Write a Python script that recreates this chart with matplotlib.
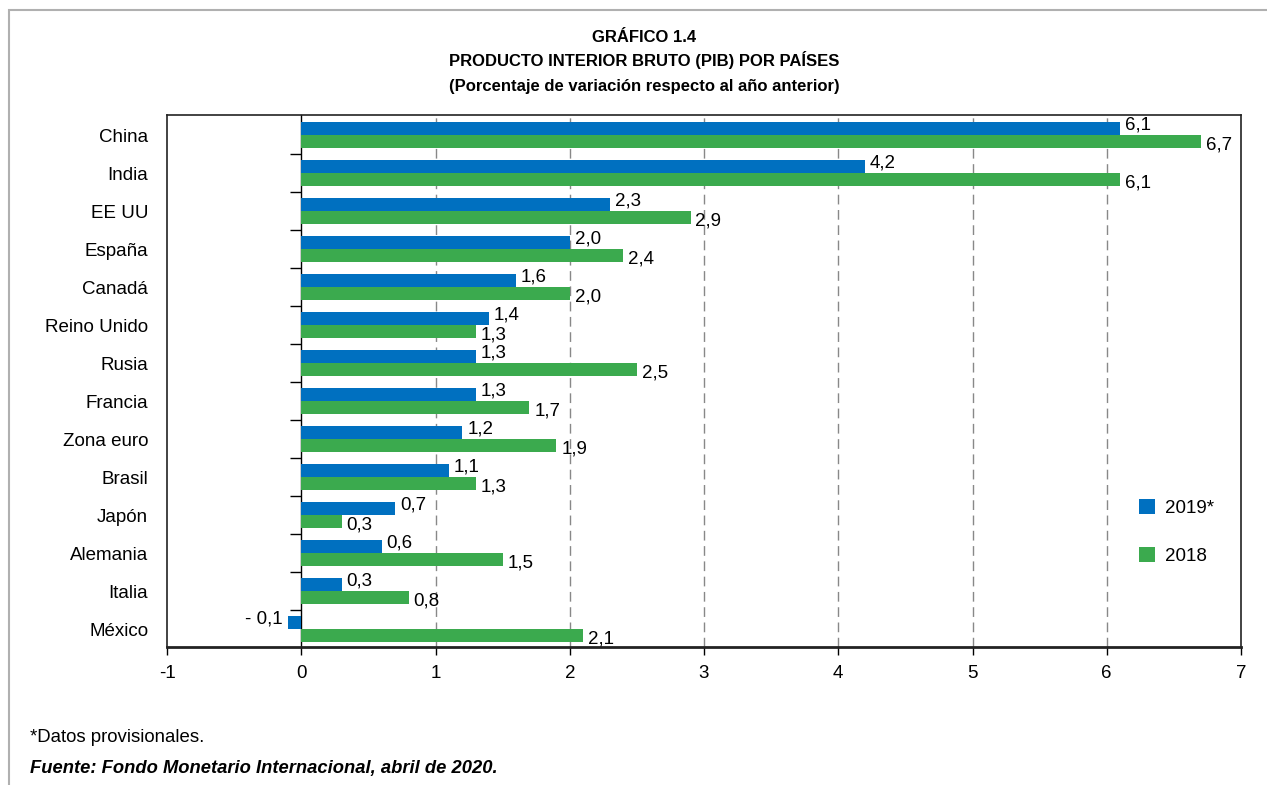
import matplotlib
matplotlib.use("Agg")
from matplotlib import pyplot as plt
from matplotlib.patches import Rectangle
import numpy as np

plt.rcParams['font.family'] = ['Liberation Sans', 'DejaVu Sans']

# Data
countries = ["China", "India", "EE UU", "España", "Canadá", "Reino Unido", "Rusia",
             "Francia", "Zona euro", "Brasil", "Japón", "Alemania", "Italia", "México"]
gdp_2019 = [6.1, 4.2, 2.3, 2.0, 1.6, 1.4, 1.3, 1.3, 1.2, 1.1, 0.7, 0.6, 0.3, -0.1]
gdp_2018 = [6.7, 6.1, 2.9, 2.4, 2.0, 1.3, 2.5, 1.7, 1.9, 1.3, 0.3, 1.5, 0.8, 2.1]
x_ticks = [-1, 0, 1, 2, 3, 4, 5, 6, 7]

blue = '#0070C0'
green = '#3BAA4E'

fig = plt.figure(figsize=(12.67, 7.85), dpi=100)
ax = fig.add_axes([167 / 1267, 1 - 647 / 785, (1241 - 167) / 1267, (647 - 115) / 785])

# Outer frame of the figure (gray line at top and left)
fig.patches.append(Rectangle((9 / 1267, -0.1), 1.2, 1 - 10 / 785 + 0.1,
                             transform=fig.transFigure, fill=False,
                             edgecolor='#b0b0b0', linewidth=1.5))

y = np.arange(len(countries))
h = 0.35
ax.barh(y - h / 2, gdp_2019, height=h, color=blue, label='2019*', zorder=3)
ax.barh(y + h / 2, gdp_2018, height=h, color=green, label='2018', zorder=3)

def fmt(v):
    s = f"{abs(v):.1f}".replace('.', ',')
    return ("- " + s) if v < 0 else s

for yi, v in zip(y, gdp_2019):
    ax.annotate(fmt(v), (v, yi - h / 2), xytext=(3.5 if v >= 0 else -4, 2.5),
                textcoords='offset points', ha='left' if v >= 0 else 'right',
                va='center', fontsize=13.5)
for yi, v in zip(y, gdp_2018):
    ax.annotate(fmt(v), (v, yi + h / 2), xytext=(3.5, -2),
                textcoords='offset points', ha='left', va='center', fontsize=13.5)

ax.set_xlim(-1, 7)
ax.set_ylim(len(countries) - 0.53, -0.53)
ax.set_xticks(x_ticks)
ax.set_xticklabels([str(t) for t in x_ticks], fontsize=13.5)
ax.set_yticks(y)
ax.set_yticklabels(countries, fontsize=13.5)
ax.tick_params(axis='y', length=0, pad=13.5)
ax.tick_params(axis='x', direction='out', length=6, width=1, pad=7)

for t in x_ticks[2:-1]:
    ax.axvline(t, color='#888888', linewidth=1, linestyle=(0, (7, 4)), zorder=1)

for s in ax.spines.values():
    s.set_color('#222222')
    s.set_linewidth(1.2)
ax.spines['bottom'].set_linewidth(2)

# Vertical axis at zero with tick marks between categories
sec = ax.secondary_yaxis(1 / 8)
sec.set_yticks([])
sec.set_yticks(np.arange(len(countries) - 1) + 0.5, minor=True)
sec.tick_params(which='minor', direction='out', length=8, width=1)
sec.spines['left'].set_color('black')
sec.spines['left'].set_linewidth(1)

leg = ax.legend(loc='center left', bbox_to_anchor=(1122 / 1267, 1 - 532 / 785),
                bbox_transform=fig.transFigure, frameon=False, fontsize=13.5,
                handlelength=0.85, handleheight=0.85, labelspacing=1.65,
                handletextpad=0.55)

cx = 644 / 1267
fig.text(cx, 1 - 38 / 785, "GRÁFICO 1.4", ha='center', va='center',
         fontsize=12, fontweight='bold')
fig.text(cx, 1 - 60 / 785, "PRODUCTO INTERIOR BRUTO (PIB) POR PAÍSES", ha='center',
         va='center', fontsize=12, fontweight='bold')
fig.text(cx, 1 - 87 / 785, "(Porcentaje de variación respecto al año anterior)",
         ha='center', va='center', fontsize=12, fontweight='bold')

fig.text(30 / 1267, 1 - 738 / 785, "*Datos provisionales.", ha='left', va='center',
         fontsize=13.4)
fig.text(30 / 1267, 1 - 769 / 785, "Fuente: Fondo Monetario Internacional, abril de 2020.",
         ha='left', va='center', fontsize=13.2, fontweight='bold', fontstyle='italic')

fig.savefig('out.png', dpi=100)
